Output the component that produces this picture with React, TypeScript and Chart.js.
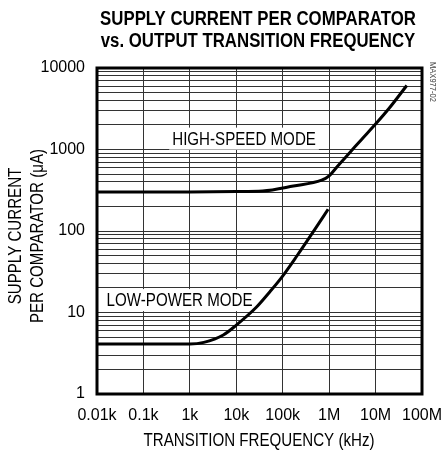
import React, { useEffect, useRef } from 'react';
import { Chart, registerables } from 'chart.js';

Chart.register(...registerables);

// ---- data (frequency in kHz, current in µA) ----
const freqHigh = [0.01, 1, 10, 37, 170, 690, 1000, 1500, 2800, 5000, 10000, 20000, 47000];
const currHigh = [300, 302, 305, 310, 357, 420, 475, 620, 920, 1330, 2050, 3250, 6100];
const freqLow = [0.01, 1, 2, 5.25, 10, 27, 53, 95, 200, 500, 950];
const currLow = [4.1, 4.1, 4.3, 5.3, 7, 11.6, 18, 27, 49, 106, 185];

const xTickValues = [0.01, 0.1, 1, 10, 100, 1000, 10000, 100000];
const xTickLabels = ['0.01k', '0.1k', '1k', '10k', '100k', '1M', '10M', '100M'];
const yTickValues = [1, 10, 100, 1000, 10000];
const yTickLabels = ['1', '10', '100', '1000', '10000'];
const yMinorMultipliers = [1, 2, 3, 4, 5, 6, 7, 8, 9];

const titleLines = ['SUPPLY CURRENT PER COMPARATOR', 'vs. OUTPUT TRANSITION FREQUENCY'];
const yTitleLines = ['SUPPLY CURRENT', 'PER COMPARATOR (\u03bcA)'];
const xTitle = 'TRANSITION FREQUENCY (kHz)';
const annotations = [
  { text: 'HIGH-SPEED MODE', x: 14.7, y: 1360 },
  { text: 'LOW-POWER MODE', x: 0.6, y: 14.2 },
];
const partCode = 'MAX977-02';

const FONT = "'Liberation Sans', Arial, Helvetica, sans-serif";
const NARROW = 0.84;

function buildYTicks() {
  const out: { value: number }[] = [];
  for (let i = 0; i < yTickValues.length - 1; i++) {
    for (const m of yMinorMultipliers) out.push({ value: yTickValues[i] * m });
  }
  out.push({ value: yTickValues[yTickValues.length - 1] });
  return out;
}

function drawNarrow(ctx: any, text: string, x: number, y: number, font: string, rot = 0, align = 'center', color = '#000') {
  ctx.save();
  ctx.translate(x, y);
  if (rot) ctx.rotate(rot);
  ctx.scale(NARROW, 1);
  ctx.font = font;
  ctx.textAlign = align;
  ctx.textBaseline = 'middle';
  ctx.fillStyle = color;
  ctx.fillText(text, 0, 0);
  ctx.restore();
}

const textPlugin = {
  id: 'textPlugin',
  beforeDatasetsDraw(chart: any) {
    const ctx = chart.ctx;
    const xs = chart.scales.x;
    const ys = chart.scales.y;
    ctx.save();
    const font = `18px ${FONT}`;
    ctx.font = font;
    for (const a of annotations) {
      const px = xs.getPixelForValue(a.x);
      const py = ys.getPixelForValue(a.y);
      const w = ctx.measureText(a.text).width * NARROW;
      ctx.fillStyle = '#fff';
      ctx.fillRect(px - w / 2 - 3, py - 11, w + 6, 22);
      drawNarrow(ctx, a.text, px, py + 1, font);
    }
    ctx.restore();
  },
  afterDraw(chart: any) {
    const ctx = chart.ctx;
    const ca = chart.chartArea;
    ctx.save();
    ctx.strokeStyle = '#000';
    ctx.lineWidth = 3;
    ctx.strokeRect(ca.left, ca.top, ca.right - ca.left, ca.bottom - ca.top);
    ctx.restore();
    const bold = `bold 20px ${FONT}`;
    drawNarrow(ctx, titleLines[0], 258, 19, bold);
    drawNarrow(ctx, titleLines[1], 258, 41, bold);
    const reg = `18px ${FONT}`;
    drawNarrow(ctx, xTitle, 259, 441, reg);
    drawNarrow(ctx, yTitleLines[0], 16, 236, reg, -Math.PI / 2);
    drawNarrow(ctx, yTitleLines[1], 38, 236, reg, -Math.PI / 2);
    drawNarrow(ctx, partCode, 432, 62, `9px ${FONT}`, Math.PI / 2, 'left', '#444');
  },
};

export default function App() {
  const ref = useRef<HTMLCanvasElement | null>(null);
  useEffect(() => {
    if (!ref.current) return;
    const chart = new Chart(ref.current, {
      type: 'line',
      data: {
        datasets: [
          {
            label: 'High-speed mode',
            data: freqHigh.map((f, i) => ({ x: f, y: currHigh[i] })),
            borderColor: '#000',
            borderWidth: 3,
            pointRadius: 0,
            cubicInterpolationMode: 'monotone',
            fill: false,
          },
          {
            label: 'Low-power mode',
            data: freqLow.map((f, i) => ({ x: f, y: currLow[i] })),
            borderColor: '#000',
            borderWidth: 3,
            pointRadius: 0,
            cubicInterpolationMode: 'monotone',
            fill: false,
          },
        ],
      },
      options: {
        responsive: false,
        animation: false,
        events: [],
        layout: { padding: { top: 68, right: 20, left: 0, bottom: 0 } },
        plugins: { legend: { display: false }, title: { display: false }, tooltip: { enabled: false } },
        scales: {
          x: {
            type: 'logarithmic',
            min: 0.01,
            max: 100000,
            afterBuildTicks: (scale: any) => {
              scale.ticks = xTickValues.map((v) => ({ value: v }));
            },
            afterFit: (scale: any) => {
              scale.height = 60;
              scale.paddingLeft = 0;
              scale.paddingRight = 0;
            },
            ticks: {
              autoSkip: false,
              maxRotation: 0,
              padding: 12,
              color: '#000',
              font: { family: FONT, size: 16 },
              callback: (v: any) => {
                const i = xTickValues.findIndex((t) => Math.abs(t - v) / t < 1e-6);
                return i >= 0 ? xTickLabels[i] : '';
              },
            },
            grid: { color: '#333', lineWidth: 1, drawTicks: false },
            border: { display: false },
          },
          y: {
            type: 'logarithmic',
            min: 1,
            max: 10000,
            afterBuildTicks: (scale: any) => {
              scale.ticks = buildYTicks();
            },
            afterFit: (scale: any) => {
              scale.width = 97;
              scale.paddingTop = 0;
              scale.paddingBottom = 0;
            },
            ticks: {
              autoSkip: false,
              padding: 12,
              color: '#000',
              font: { family: FONT, size: 16 },
              callback: (v: any) => {
                const i = yTickValues.findIndex((t) => Math.abs(t - v) / t < 1e-6);
                return i >= 0 ? yTickLabels[i] : '';
              },
            },
            grid: { color: '#333', lineWidth: 1, drawTicks: false },
            border: { display: false },
          },
        },
      },
      plugins: [textPlugin],
    } as any);
    return () => chart.destroy();
  }, []);
  return (
    <div style={{ position: 'fixed', left: 0, top: 0, width: 442, height: 454, background: '#fff' }}>
      <canvas ref={ref} width={442} height={454} style={{ width: 442, height: 454, display: 'block' }} />
    </div>
  );
}
